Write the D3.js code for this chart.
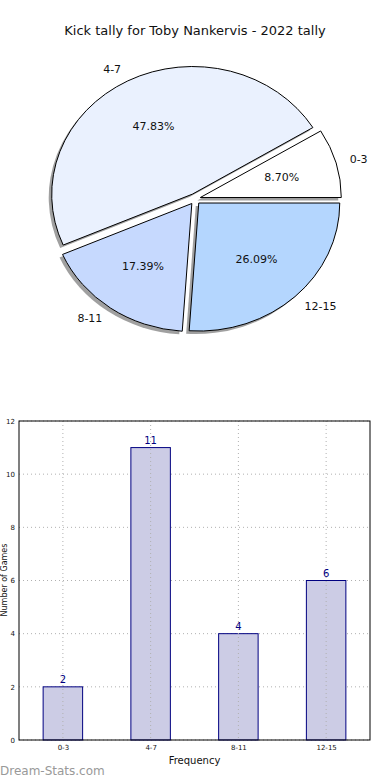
<!DOCTYPE html>
<html lang="en">
<head>
<meta charset="UTF-8">
<title>Kick tally for Toby Nankervis</title>
<script src="https://d3js.org/d3.v7.min.js"></script>
<style>
  body { margin: 0; background: #fff; }
  svg { display: block; font-family: "DejaVu Sans", sans-serif; }
</style>
</head>
<body>
<div id="chart"></div>
<script>
// data
const categories = ["0-3", "4-7", "8-11", "12-15"];
const counts = [2, 11, 4, 6];
const sliceColors = ["#ffffff", "#eaf1fe", "#c6d9fe", "#b4d6fe"];
const yTicks = [0, 2, 4, 6, 8, 10, 12];

const W = 390, H = 780;
const svg = d3.select("#chart").append("svg")
  .attr("width", W).attr("height", H);

svg.append("text")
  .attr("x", 195).attr("y", 35)
  .attr("text-anchor", "middle")
  .attr("font-size", 13)
  .attr("fill", "#111")
  .text("Kick tally for Toby Nankervis - 2022 tally");

// ---- pie (matplotlib style: starts at 3 o'clock, counterclockwise) ----
const cx = 195, cy = 199;
const rx = 141, ry = 128;
const explode = 5.5;
const total = d3.sum(counts);

const pie = d3.pie().sort(null)
  .startAngle(Math.PI / 2)
  .endAngle(Math.PI / 2 - 2 * Math.PI);
const arcs = pie(counts);

// unit arc, stretched into an ellipse
const arc = d3.arc().innerRadius(0).outerRadius(1);

function midAngle(d) { return (d.startAngle + d.endAngle) / 2; }
function offset(d, k) {
  const a = midAngle(d);
  return [Math.sin(a) * k, -Math.cos(a) * k];
}

const pieG = svg.append("g");

// shadows first
pieG.selectAll("path.shadow")
  .data(arcs)
  .join("path")
  .attr("class", "shadow")
  .attr("d", arc)
  .attr("transform", d => {
    const o = offset(d, explode);
    return `translate(${cx + o[0] - 3},${cy + o[1] + 3}) scale(${rx},${ry})`;
  })
  .attr("fill", "#808080")
  .attr("opacity", 0.75);

pieG.selectAll("path.slice")
  .data(arcs)
  .join("path")
  .attr("class", "slice")
  .attr("d", arc)
  .attr("transform", d => {
    const o = offset(d, explode);
    return `translate(${cx + o[0]},${cy + o[1]}) scale(${rx},${ry})`;
  })
  .attr("fill", (d, i) => sliceColors[i])
  .attr("stroke", "#000")
  .attr("stroke-width", 1)
  .attr("vector-effect", "non-scaling-stroke");

// outer labels
pieG.selectAll("text.lbl")
  .data(arcs)
  .join("text")
  .attr("class", "lbl")
  .each(function(d, i) {
    const a = midAngle(d);
    const o = offset(d, explode);
    const x = cx + o[0] + Math.sin(a) * rx * 1.1;
    const y = cy + o[1] - Math.cos(a) * ry * 1.1;
    d3.select(this)
      .attr("x", x).attr("y", y)
      .attr("dy", "0.35em")
      .attr("text-anchor", Math.sin(a) > 0 ? "start" : "end")
      .text(categories[i]);
  })
  .attr("font-size", 11)
  .attr("fill", "#111");

// percent labels
pieG.selectAll("text.pct")
  .data(arcs)
  .join("text")
  .attr("class", "pct")
  .each(function(d) {
    const a = midAngle(d);
    const o = offset(d, explode);
    d3.select(this)
      .attr("x", cx + o[0] + Math.sin(a) * rx * 0.6)
      .attr("y", cy + o[1] - Math.cos(a) * ry * 0.6)
      .attr("dy", "0.35em")
      .attr("text-anchor", "middle")
      .text((d.value / total * 100).toFixed(2) + "%");
  })
  .attr("font-size", 11)
  .attr("fill", "#111");

// ---- bar chart ----
const pLeft = 19, pRight = 370, pTop = 421, pBottom = 740;

const x = d3.scaleLinear().domain([-0.5, categories.length - 0.5]).range([pLeft, pRight]);
const y = d3.scaleLinear().domain([0, 12]).range([pBottom, pTop]);
const barW = 0.45;

const bars = svg.append("g");

// grid
bars.selectAll("line.hg")
  .data(yTicks)
  .join("line")
  .attr("class", "hg")
  .attr("x1", pLeft).attr("x2", pRight)
  .attr("y1", d => y(d)).attr("y2", d => y(d))
  .attr("stroke", "#b0b0b0")
  .attr("stroke-dasharray", "1,3");

bars.selectAll("rect")
  .data(counts)
  .join("rect")
  .attr("x", (d, i) => x(i - barW / 2))
  .attr("width", x(barW) - x(0))
  .attr("y", d => y(d))
  .attr("height", d => y(0) - y(d))
  .attr("fill", "#ccccE5")
  .attr("stroke", "#000080")
  .attr("stroke-width", 1);

// vertical grid drawn over the bars
bars.selectAll("line.vg")
  .data(categories)
  .join("line")
  .attr("class", "vg")
  .attr("x1", (d, i) => x(i)).attr("x2", (d, i) => x(i))
  .attr("y1", pTop).attr("y2", pBottom)
  .attr("stroke", "#b0b0b0")
  .attr("stroke-dasharray", "1,3");

bars.selectAll("text.val")
  .data(counts)
  .join("text")
  .attr("class", "val")
  .attr("x", (d, i) => x(i))
  .attr("y", d => y(d) - 4)
  .attr("text-anchor", "middle")
  .attr("font-size", 10)
  .attr("fill", "#000080")
  .text(d => d);

// axes
const yAxis = d3.axisLeft(y).tickValues(yTicks).tickSize(0).tickPadding(4);
const xAxis = d3.axisBottom(x).tickValues(d3.range(categories.length))
  .tickFormat(i => categories[i]).tickSize(0).tickPadding(5);

const gy = svg.append("g").attr("transform", `translate(${pLeft},0)`).call(yAxis);
const gx = svg.append("g").attr("transform", `translate(0,${pBottom})`).call(xAxis);
[gx, gy].forEach(g => {
  g.select(".domain").remove();
  g.selectAll("text").attr("font-size", 7).attr("fill", "#111")
    .attr("font-family", "DejaVu Sans, sans-serif");
});

svg.append("rect")
  .attr("x", pLeft).attr("y", pTop)
  .attr("width", pRight - pLeft).attr("height", pBottom - pTop)
  .attr("fill", "none").attr("stroke", "#000").attr("stroke-width", 1);

svg.append("text")
  .attr("x", x(1.5)).attr("y", 764)
  .attr("text-anchor", "middle")
  .attr("font-size", 10)
  .attr("fill", "#111")
  .text("Frequency");

// y label sits at the far left edge, as in the reference
svg.append("text")
  .attr("transform", `translate(7,580) rotate(-90)`)
  .attr("text-anchor", "middle")
  .attr("font-size", 8)
  .attr("fill", "#111")
  .text("Number of Games");

svg.append("text")
  .attr("x", 0).attr("y", 775)
  .attr("font-size", 12)
  .attr("fill", "#999999")
  .text("Dream-Stats.com");
</script>
</body>
</html>
